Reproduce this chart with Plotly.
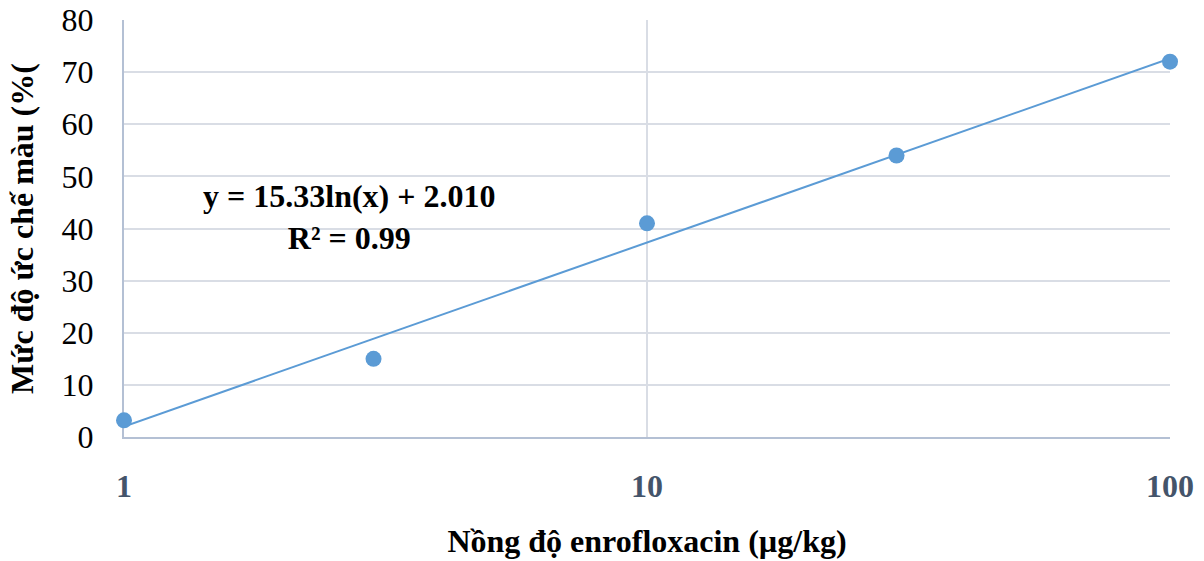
import numpy as np
import plotly.graph_objects as go

# Measured inhibition vs. enrofloxacin concentration
concentration = [1, 3, 10, 30, 100]          # µg/kg
inhibition = [3.2, 15.0, 41.0, 54.0, 72.0]   # %

# Logarithmic fit coefficients: y = a*ln(x) + b
fit_a = 15.33
fit_b = 2.010
fit_r2 = 0.99

x_ticks = [1, 10, 100]
y_ticks = [0, 10, 20, 30, 40, 50, 60, 70, 80]

blue = "#5b9bd5"
serif = "Liberation Serif, Times New Roman, serif"
fs = 32

fit_x = np.array([min(concentration), max(concentration)], dtype=float)
fit_y = fit_a * np.log(fit_x) + fit_b

fig = go.Figure()
fig.add_trace(go.Scatter(
    x=fit_x, y=fit_y, mode="lines", cliponaxis=False,
    line=dict(color=blue, width=2), hoverinfo="skip", showlegend=False,
))
fig.add_trace(go.Scatter(
    x=concentration, y=inhibition, mode="markers", cliponaxis=False,
    marker=dict(color=blue, size=16, line=dict(width=0)), showlegend=False,
))

fig.add_annotation(
    x=0.215, y=42.3, xref="paper", yref="y", xanchor="center", yanchor="middle",
    text=f"<b>y = {fit_a:.2f}ln(x) + {fit_b:.3f}<br>R² = {fit_r2:.2f}</b>",
    showarrow=False, align="center",
    font=dict(family=serif, size=fs, color="black"),
)

fig.update_layout(
    width=1204, height=561,
    margin=dict(l=124, r=34, t=20, b=124, autoexpand=False),
    paper_bgcolor="white", plot_bgcolor="white",
    font=dict(family=serif, color="black"),
    xaxis=dict(
        type="log", range=[0, 2], automargin=False, layer="below traces",
        tickvals=x_ticks, ticktext=[str(v) for v in x_ticks],
        tickfont=dict(family=serif, size=fs, color="#44546a", weight="bold"),
        showgrid=True, gridcolor="#d9dde5", gridwidth=1.5,
        showline=True, linecolor="#b4c0d4", linewidth=2,
        zeroline=False, ticks="", ticklabelstandoff=20,
        title=dict(text="<b>Nồng độ enrofloxacin (µg/kg)</b>",
                   font=dict(family=serif, size=fs, color="black"), standoff=26),
    ),
    yaxis=dict(
        range=[0, 80], tickvals=y_ticks, automargin=False, layer="below traces",
        tickfont=dict(family=serif, size=fs, color="black"),
        showgrid=True, gridcolor="#d9dde5", gridwidth=1.5,
        showline=True, linecolor="#b4c0d4", linewidth=2,
        zeroline=False, ticks="", ticklabelstandoff=22,
        title=dict(text="<b>Mức độ ức chế màu (%(</b>",
                   font=dict(family=serif, size=fs, color="black"), standoff=18),
    ),
)

fig.write_html("out.html")
